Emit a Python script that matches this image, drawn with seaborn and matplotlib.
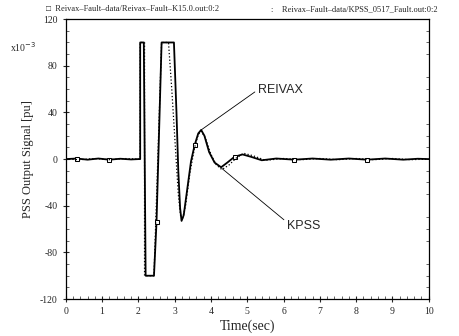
import numpy as np
import pandas as pd
import seaborn as sns
import matplotlib.pyplot as plt

# values (PSS output signal, x1e-3 pu)
t_reivax = [0.0, 0.3, 0.6, 0.9, 1.2, 1.5, 1.8, 2.0, 2.05, 2.05, 2.15, 2.2, 2.43,
            2.5, 2.64, 2.98, 3.05, 3.10, 3.15, 3.19, 3.25, 3.35, 3.45, 3.55,
            3.65, 3.73, 3.82, 3.95, 4.1, 4.28, 4.45, 4.65, 4.87, 5.1, 5.4,
            5.8, 6.3, 6.8, 7.3, 7.8, 8.3, 8.8, 9.3, 9.7, 10.0]
v_reivax = [0.0, 0.5, -0.5, 0.5, -0.5, 0.3, -0.3, 0.0, 0.0, 100, 100, -100, -100,
            -54, 100, 100, 40, -10, -42, -53, -48, -25, -2, 12,
            22, 25, 20, 6, -3, -7, -3, 2, 4, 2, -1,
            0.5, -0.5, 0.5, -0.5, 0.5, -0.5, 0.5, -0.5, 0.3, 0.0]

t_kpss = [0.0, 0.4, 0.8, 1.2, 1.6, 2.0, 2.05, 2.05, 2.17, 2.17, 2.43, 2.64,
          2.83, 2.92, 3.02, 3.10, 3.16, 3.21, 3.3, 3.42, 3.55, 3.65, 3.73,
          3.85, 4.0, 4.15, 4.3, 4.5, 4.7, 4.9, 5.15, 5.5, 6.0, 6.5, 7.0,
          7.5, 8.0, 8.5, 9.0, 9.5, 10.0]
v_kpss = [0.0, -0.5, 0.5, -0.5, 0.5, 0.0, 0.0, 100, 100, -100, -100, 100,
          100, 60, 10, -30, -48, -52, -40, -12, 10, 21, 24,
          18, 4, -5, -9, -5, 1, 5, 3, -1, 0.5, -0.5, 0.5,
          -0.5, 0.5, -0.5, 0.5, -0.5, 0.0]

x_ticks = [0, 1, 2, 3, 4, 5, 6, 7, 8, 9, 10]
y_ticks = [-120, -80, -40, 0, 40, 80, 120]

df_r = pd.DataFrame({'t': t_reivax, 'v': v_reivax})
df_k = pd.DataFrame({'t': t_kpss, 'v': v_kpss})

sns.set_style('ticks')
serif = ['Liberation Serif', 'DejaVu Serif']
plt.rcParams['font.family'] = serif

fig = plt.figure(figsize=(4.6, 3.36), dpi=100)
ax = fig.add_axes([0.143, 0.110, 0.789, 0.833])

sns.lineplot(data=df_r, x='t', y='v', sort=False, estimator=None, ax=ax,
             color='black', linewidth=1.3, marker='s', markersize=3,
             markerfacecolor='white', markeredgecolor='black',
             markevery=[1, 4, 13, 23, 31, 36, 40])
sns.lineplot(data=df_k, x='t', y='v', sort=False, estimator=None, ax=ax,
             color='black', linewidth=0.9, linestyle=':')

ax.set_xlim(0, 10)
ax.set_ylim(-120, 120)
ax.set_xticks(x_ticks)
ax.set_yticks(y_ticks)
ax.set_xticklabels([str(x) for x in x_ticks])
ax.set_yticklabels([str(y) for y in y_ticks])
ax.minorticks_on()
ax.tick_params(which='major', direction='inout', length=5, width=0.8,
               labelsize=7, top=False, right=False)
ax.tick_params(which='minor', direction='in', length=2, width=0.5,
               top=False, right=True)
for s in ax.spines.values():
    s.set_linewidth(0.9)
    s.set_color('black')

ax.set_xlabel('Time(sec)', fontsize=10, labelpad=2)
ax.set_ylabel('PSS Output Signal [pu]', fontsize=9, labelpad=4)

fig.text(0.022, 0.845, r'x10$^{-3}$', fontsize=7, family=serif)

ax.annotate('REIVAX', xy=(3.73, 25), xytext=(5.3, 57),
            fontsize=9, family=['Liberation Sans', 'DejaVu Sans'],
            arrowprops=dict(arrowstyle='-', color='black', lw=0.6,
                            shrinkA=0, shrinkB=0, relpos=(0, 0.5)))
ax.annotate('KPSS', xy=(4.3, -8), xytext=(6.1, -60),
            fontsize=9, family=['Liberation Sans', 'DejaVu Sans'],
            arrowprops=dict(arrowstyle='-', color='black', lw=0.6,
                            shrinkA=0, shrinkB=0, relpos=(0, 0.8)))

fig.text(0.100, 0.985, '\u25a1  Reivax\u2013Fault\u2013data/Reivax\u2013Fault\u2013K15.0.out:0:2',
         fontsize=6, va='top', family=['Liberation Serif', 'DejaVu Sans'])
fig.text(0.590, 0.985, ':    Reivax\u2013Fault\u2013data/KPSS_0517_Fault.out:0:2',
         fontsize=6, va='top', family=serif)

plt.savefig('out.png', dpi=100)
